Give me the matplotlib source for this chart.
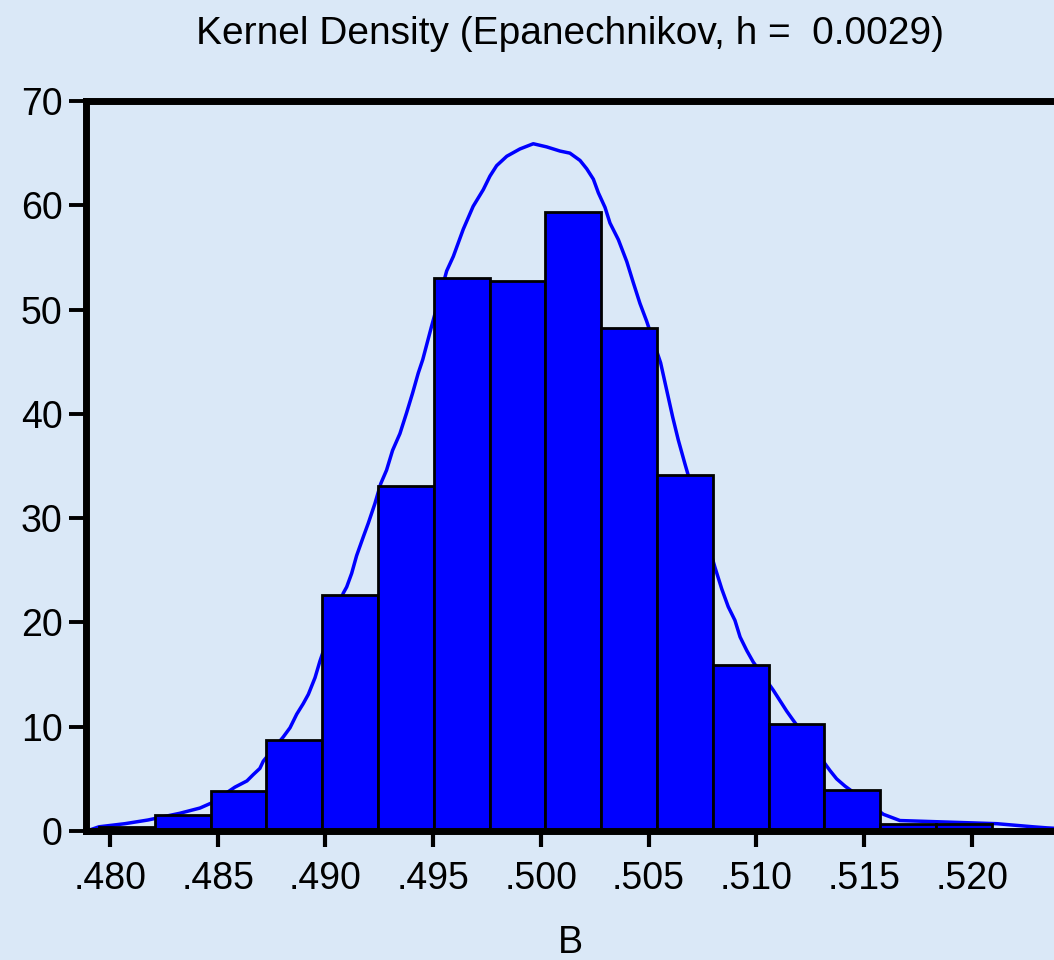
import numpy as np
import matplotlib
matplotlib.use("Agg")
import matplotlib.pyplot as plt
from matplotlib.ticker import FuncFormatter

# histogram of B: bin edges and bar heights (density)
bin_edges = [0.47949, 0.48208, 0.48467, 0.48726, 0.48985, 0.49244, 0.49503,
             0.49762, 0.50021, 0.50280, 0.50539, 0.50798, 0.51057, 0.51316,
             0.51575, 0.51834, 0.52093]
bar_heights = [0.4, 1.5, 3.8, 8.7, 22.6, 33.1, 53.0, 52.7, 59.4, 48.2,
               34.1, 15.9, 10.3, 3.9, 0.7, 0.7]

# Epanechnikov kernel density estimate
kde_x = [0.47893, 0.47907, 0.47949, 0.48070, 0.48176, 0.48325, 0.48418,
         0.48473, 0.48580, 0.48636, 0.48665, 0.48696, 0.48712, 0.48804,
         0.48836, 0.48867, 0.48897, 0.48921, 0.48952, 0.48975, 0.49083,
         0.49099, 0.49122, 0.49145, 0.49176, 0.49199, 0.49230, 0.49257,
         0.49284, 0.49312, 0.49346, 0.49377, 0.49405, 0.49431, 0.49452,
         0.49493, 0.49563, 0.49594, 0.49640, 0.49686, 0.49733, 0.49764,
         0.49795, 0.49842, 0.49903, 0.49965, 0.50027, 0.50089, 0.50135,
         0.50182, 0.50213, 0.50244, 0.50267, 0.50298, 0.50321, 0.50360,
         0.50399, 0.50429, 0.50460, 0.50491, 0.50556, 0.50584, 0.50612,
         0.50638, 0.50669, 0.50808, 0.50840, 0.50870, 0.50901, 0.50925,
         0.50956, 0.50986, 0.51079, 0.51110, 0.51141, 0.51172, 0.51342,
         0.51373, 0.51412, 0.51590, 0.51667, 0.52116, 0.52285, 0.52348,
         0.52390]
kde_y = [0.05, 0.1, 0.4, 0.7, 1.05, 1.7, 2.2,
         2.7, 4.2, 4.8, 5.4, 6.0, 6.7, 9.0,
         9.9, 11.2, 12.2, 13.1, 14.7, 16.3, 22.8,
         23.4, 24.7, 26.4, 28.2, 29.5, 31.4, 33.3,
         34.6, 36.5, 38.1, 40.1, 42.0, 43.9, 45.2,
         48.4, 53.7, 55.1, 57.7, 59.9, 61.5, 62.8,
         63.8, 64.7, 65.4, 65.9, 65.6, 65.2, 65.0,
         64.3, 63.5, 62.5, 61.2, 59.8, 58.3, 56.7,
         54.6, 52.6, 50.6, 48.9, 44.9, 42.3, 39.7,
         37.5, 35.2, 25.3, 23.2, 21.5, 20.2, 18.6,
         17.3, 16.2, 13.5, 12.5, 11.5, 10.6, 5.8,
         5.0, 4.3, 1.6, 1.0, 0.7, 0.4, 0.3,
         0.25]

x_ticks = [0.480, 0.485, 0.490, 0.495, 0.500, 0.505, 0.510, 0.515, 0.520]
y_ticks = [0, 10, 20, 30, 40, 50, 60, 70]

BG = "#dae8f7"
BLUE = "#0000ff"
FONT = ["Liberation Sans", "DejaVu Sans"]

fig = plt.figure(figsize=(10.54, 9.6), dpi=100, facecolor=BG)
ax = fig.add_axes([0.0816, 0.1344, 0.9184, 0.7604])
ax.set_facecolor(BG)

edges = np.array(bin_edges)
ax.plot(kde_x, kde_y, color=BLUE, lw=2.5, zorder=2)
ax.bar(edges[:-1], bar_heights, width=np.diff(edges), align="edge",
       color=BLUE, edgecolor="black", linewidth=2.0, zorder=3)

ax.set_xlim(0.47889, 0.52382)
ax.set_ylim(0, 70)

for side in ["left", "top", "bottom"]:
    ax.spines[side].set_linewidth(5.0)
    ax.spines[side].set_color("black")
    ax.spines[side].set_zorder(5)
ax.spines["right"].set_visible(False)

ax.set_xticks(x_ticks)
ax.set_yticks(y_ticks)
ax.xaxis.set_major_formatter(FuncFormatter(lambda v, p: ("%.3f" % v)[1:]))
ax.tick_params(axis="x", direction="out", length=11.5, width=3.0, pad=10,
               labelsize=27)
ax.tick_params(axis="y", direction="out", length=12, width=2.8, pad=5,
               labelsize=27)
for lab in ax.get_xticklabels() + ax.get_yticklabels():
    lab.set_family(FONT)

ax.set_xlabel("B", fontsize=27, family=FONT, labelpad=20)
ax.set_title("Kernel Density (Epanechnikov, h =  0.0029)", fontsize=28,
             family=FONT, pad=41)

plt.savefig("out.png", dpi=100, facecolor=BG)
plt.close()
